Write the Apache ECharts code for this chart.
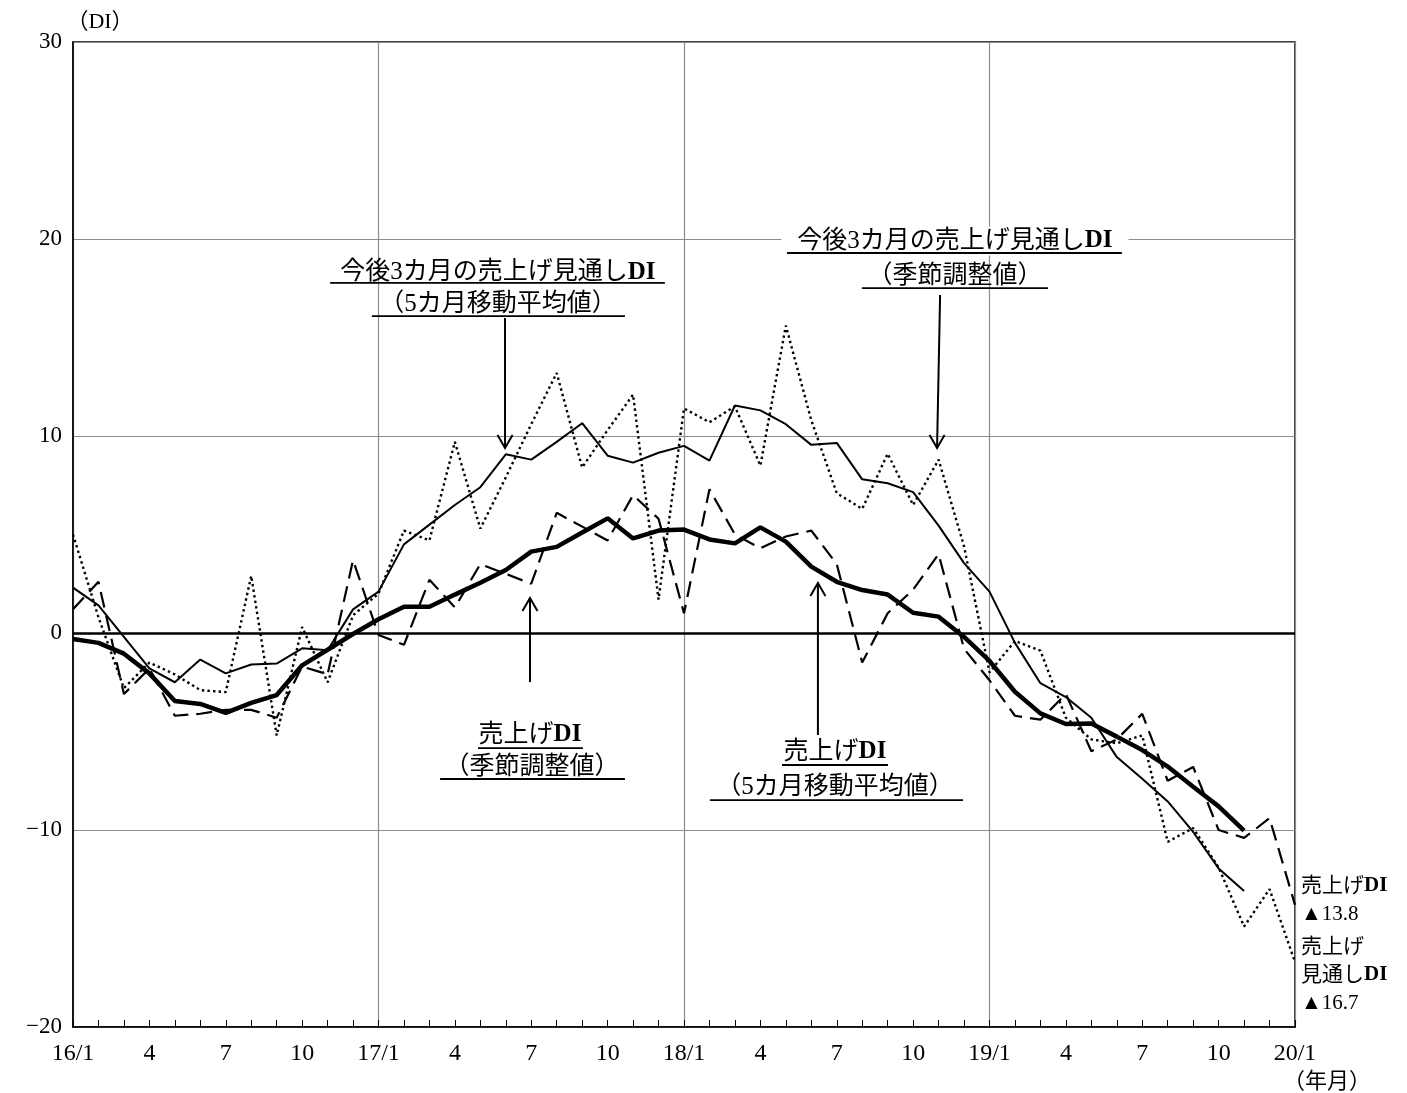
<!DOCTYPE html>
<html><head><meta charset="utf-8">
<script src="https://cdn.jsdelivr.net/npm/echarts@6/dist/echarts.min.js"></script>
<style>html,body{margin:0;padding:0;background:#fff}#c{width:1407px;height:1093px}</style>
</head><body><div id="c"></div>
<script>
// ---- data ----
const categories = ['16/1','2','3','4','5','6','7','8','9','10','11','12',
  '17/1','2','3','4','5','6','7','8','9','10','11','12',
  '18/1','2','3','4','5','6','7','8','9','10','11','12',
  '19/1','2','3','4','5','6','7','8','9','10','11','12','20/1'];

// 今後3カ月の売上げ見通しDI（季節調整値）
const outlookSA = [5.0,0.8,-2.8,-1.5,-2.1,-2.9,-3.0,2.9,-5.2,0.3,-2.5,0.9,
  2.0,5.2,4.7,9.7,5.3,7.9,10.6,13.2,8.4,10.3,12.1,1.7,
  11.4,10.7,11.5,8.5,15.6,10.8,7.1,6.3,9.1,6.5,8.8,4.4,
  -2.0,-0.4,-0.9,-4.3,-5.4,-5.6,-5.2,-10.6,-9.9,-11.9,-14.9,-13.0,-16.7];

// 今後3カ月の売上げ見通しDI（5カ月移動平均値）
const outlookMA = [2.3,1.4,-0.2,-1.8,-2.5,-1.35,-2.05,-1.6,-1.55,-0.78,-0.88,1.2,
  2.1,4.5,5.5,6.5,7.4,9.07,8.8,9.7,10.65,9.0,8.65,9.15,
  9.5,8.75,11.55,11.3,10.6,9.55,9.65,7.8,7.6,7.15,5.45,3.55,
  2.1,-0.5,-2.55,-3.25,-4.3,-6.3,-7.4,-8.55,-10.1,-11.95,-13.1];

// 売上げDI（季節調整値）
const salesSA = [1.2,2.6,-3.1,-1.8,-4.2,-4.1,-3.9,-3.9,-4.3,-1.7,-2.1,3.7,
  -0.1,-0.6,2.7,1.3,3.5,3.0,2.5,6.1,5.4,4.7,7.0,5.8,
  1.0,7.3,5.0,4.3,4.9,5.2,3.5,-1.5,1.0,2.2,4.0,-0.8,
  -2.4,-4.2,-4.4,-3.1,-6.0,-5.4,-4.1,-7.5,-6.8,-10.0,-10.4,-9.4,-13.8];

// 売上げDI（5カ月移動平均値）
const salesMA = [-0.3,-0.5,-1.05,-2.05,-3.45,-3.6,-4.05,-3.55,-3.15,-1.64,-0.85,-0.05,
  0.7,1.33,1.33,1.95,2.55,3.2,4.13,4.37,5.1,5.82,4.8,5.2,
  5.25,4.75,4.55,5.36,4.64,3.37,2.6,2.18,1.95,1.03,0.83,-0.2,
  -1.42,-2.98,-4.08,-4.62,-4.6,-5.26,-5.94,-6.78,-7.8,-8.8,-10.03];

const yMin = -20, yMax = 30, yStep = 10;

// ---- style ----
const SERIF = '"Liberation Serif", "Noto Sans CJK JP", serif';
const GRID = '#8c8c8c';

const chart = echarts.init(document.getElementById('c'), null, {renderer:'canvas'});

const option = {
  animation: false,
  backgroundColor: '#fff',
  grid: {left: 73, right: 112, top: 42, bottom: 66, show: true, borderColor: '#000', borderWidth: 1.5, backgroundColor: 'transparent'},
  xAxis: {
    type: 'category', data: categories, boundaryGap: false,
    axisLine: {onZero: false, lineStyle: {color: '#000', width: 1.5}},
    axisTick: {show: true, inside: true, length: 7, interval: 0, lineStyle: {color: '#000', width: 1}},
    axisLabel: {interval: (i) => i % 3 === 0, color: '#000', fontSize: 24, fontFamily: SERIF, margin: 15},
    splitLine: {show: true, interval: (i) => i % 12 === 0, lineStyle: {color: GRID, width: 1.2}}
  },
  yAxis: {
    type: 'value', min: yMin, max: yMax, interval: yStep,
    axisLine: {show: true, onZero: false, lineStyle: {color: '#000', width: 1.5}},
    axisTick: {show: false},
    axisLabel: {color: '#000', fontSize: 23, fontFamily: SERIF, margin: 11,
      formatter: (v) => v < 0 ? '\u2212' + (-v) : String(v)},
    splitLine: {show: true, lineStyle: {color: GRID, width: 1.2}}
  },
  series: [
    {name: '今後3カ月の売上げ見通しDI（季節調整値）', type: 'line', data: outlookSA, symbol: 'none',
      lineStyle: {color: '#000', width: 2.4, type: [2.4, 3.2], cap: 'butt'}, z: 3},
    {name: '売上げDI（季節調整値）', type: 'line', data: salesSA, symbol: 'none',
      lineStyle: {color: '#000', width: 2.2, type: [16, 8]}, z: 3},
    {name: '今後3カ月の売上げ見通しDI（5カ月移動平均値）', type: 'line', data: outlookMA, symbol: 'none',
      lineStyle: {color: '#000', width: 2}, z: 4},
    {name: '売上げDI（5カ月移動平均値）', type: 'line', data: salesMA, symbol: 'none',
      lineStyle: {color: '#000', width: 4.5}, z: 5,
      markLine: {silent: true, symbol: ['none','none'], label: {show: false},
        lineStyle: {color: '#000', width: 2.5, type: 'solid'}, data: [{yAxis: 0}]}}
  ]
};
chart.setOption(option);

// ---- annotations (positions in data units: category index, DI value) ----
const notes = [
  {lines: [{a: '今後3カ月の売上げ見通し', b: 'DI', i: 16.69, v: 18.30}, {a: '（5カ月移動平均値）', i: 16.69, v: 16.70}],
   rules: [[10.10, 23.25, 17.77], [11.74, 21.68, 16.09]], arrow: [16.97, 15.99, 16.97, 9.39]},
  {lines: [{a: '今後3カ月の売上げ見通し', b: 'DI', i: 34.64, v: 19.90, bg: true}, {a: '（季節調整値）', i: 34.64, v: 18.12}],
   rules: [[28.05, 41.20, 19.29], [30.99, 38.30, 17.51]], arrow: [34.06, 17.16, 33.94, 9.39]},
  {lines: [{a: '売上げ', b: 'DI', i: 17.95, v: -5.18}, {a: '（季節調整値）', i: 18.03, v: -6.80}],
   rules: [[15.91, 20.03, -5.84], [14.42, 21.68, -7.41]], arrow: [17.95, -2.49, 17.95, 1.78]},
  {lines: [{a: '売上げ', b: 'DI', i: 29.93, v: -6.04}, {a: '（5カ月移動平均値）', i: 29.93, v: -7.82}],
   rules: [[27.85, 32.01, -6.70], [25.02, 34.96, -8.48]], arrow: [29.26, -5.18, 29.26, 2.54]}
];

function layout() {
  const x0 = chart.convertToPixel({xAxisIndex: 0}, 0);
  const xN = chart.convertToPixel({xAxisIndex: 0}, categories.length - 1);
  const fx = (i) => x0 + (xN - x0) * i / (categories.length - 1);
  const fy = (v) => chart.convertToPixel({yAxisIndex: 0}, v);
  const g = [];
  const rich = (size) => ({a: {font: size + 'px ' + SERIF, fill: '#000'}, b: {font: 'bold ' + size + 'px ' + SERIF, fill: '#000'}});
  notes.forEach((n) => {
    n.lines.forEach((l) => {
      const st = {text: '{a|' + l.a + '}' + (l.b ? '{b|' + l.b + '}' : ''), rich: rich(25),
        x: fx(l.i), y: fy(l.v), align: 'center', verticalAlign: 'middle', textAlign: 'center', textVerticalAlign: 'middle', fill: '#000'};
      if (l.bg) { st.backgroundColor = '#fff'; st.padding = [2, 16]; }
      g.push({type: 'text', z: 100, style: st});
    });
    n.rules.forEach((r) => {
      g.push({type: 'line', z: 100, shape: {x1: fx(r[0]), y1: fy(r[2]), x2: fx(r[1]), y2: fy(r[2])}, style: {stroke: '#000', lineWidth: 1.8}});
    });
    const [bi, bv, ti, tv] = n.arrow;
    const bx = fx(bi), by = fy(bv), tx = fx(ti), ty = fy(tv);
    g.push({type: 'line', z: 100, shape: {x1: bx, y1: by, x2: tx, y2: ty}, style: {stroke: '#000', lineWidth: 2}});
    const dir = ty > by ? -1 : 1;
    g.push({type: 'polyline', z: 100, shape: {points: [[tx - 7.5, ty + dir * 13], [tx, ty], [tx + 7.5, ty + dir * 13]]},
      style: {stroke: '#000', lineWidth: 2, fill: null}});
  });
  // end-value labels at right
  const fmt = (v) => (v < 0 ? '\u25B2' : '') + Math.abs(v).toFixed(1);
  const lx = fx(categories.length - 1) + 6;
  const rightLabels = [
    ['{a|売上げ}{b|DI}', 886], ['{a|' + fmt(salesSA[salesSA.length - 1]) + '}', 914],
    ['{a|売上げ}', 947], ['{a|見通し}{b|DI}', 975], ['{a|' + fmt(outlookSA[outlookSA.length - 1]) + '}', 1003]
  ];
  rightLabels.forEach(([t, y]) => {
    g.push({type: 'text', z: 100, style: {text: t, rich: rich(21), x: lx, y: y, align: 'left', textAlign: 'left', verticalAlign: 'middle', textVerticalAlign: 'middle', fill: '#000'}});
  });
  g.push({type: 'text', z: 100, style: {text: '（DI）', rich: {a: {font: '22px ' + SERIF, fill: '#000'}, b: {font: 'bold 22px ' + SERIF, fill: '#000'}},
    x: x0 + 27, y: 22, align: 'center', textAlign: 'center', verticalAlign: 'middle', textVerticalAlign: 'middle', fill: '#000', font: '22px ' + SERIF}});
  g.push({type: 'text', z: 100, style: {text: '（年月）', font: '22px ' + SERIF, x: fx(categories.length - 1) + 32, y: 1082, align: 'center', textAlign: 'center', verticalAlign: 'middle', textVerticalAlign: 'middle', fill: '#000'}});
  chart.setOption({graphic: {elements: g}});
}
layout();
</script>
</body></html>
